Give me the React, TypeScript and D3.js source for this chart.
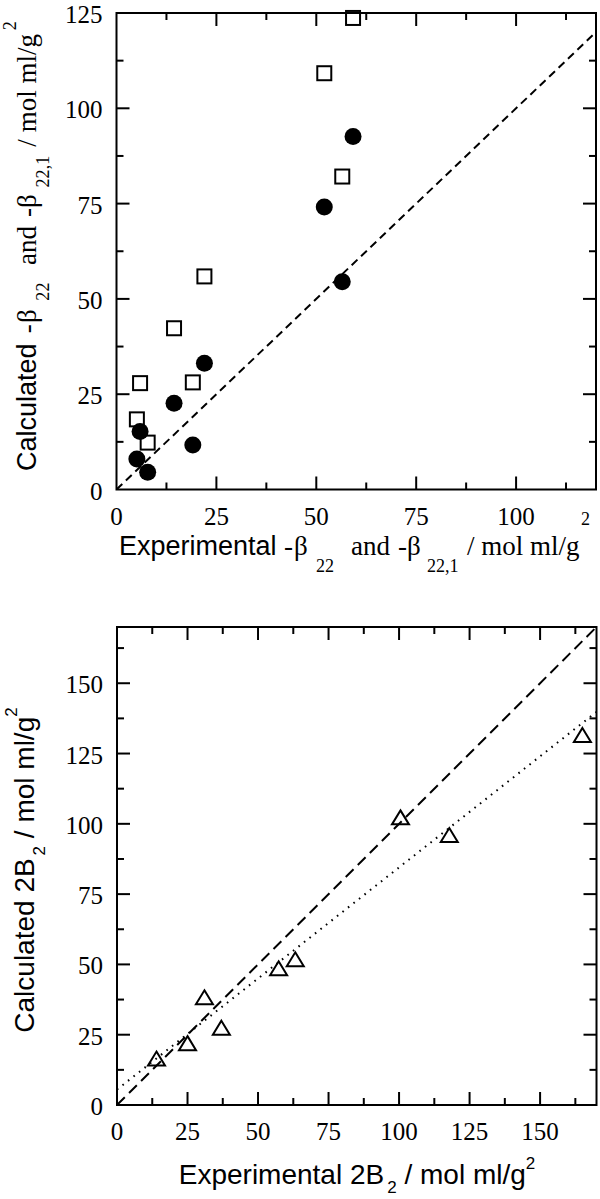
import React from "react";
import * as d3 from "d3";

// ---------- Data ----------
// Top panel: experimental vs calculated -β22 (filled circles) and -β22,1 (open squares)
const betaExp = [59.2, 52.0, 56.5, 22.0, 14.4, 19.1, 5.9, 5.1, 7.8];
const beta22Calc = [92.6, 74.1, 54.5, 33.1, 22.6, 11.7, 15.2, 8.0, 4.5];
const beta221Calc = [123.7, 109.2, 82.1, 55.9, 42.3, 28.1, 27.9, 18.4, 12.3];
const topXTicks = [0, 25, 50, 75, 100];
const topYTicks = [0, 25, 50, 75, 100, 125];

// Bottom panel: experimental vs calculated 2B2 (open triangles)
const b2Exp = [14, 25, 31, 37, 57.3, 63.2, 100.5, 117.8, 165];
const b2Calc = [16.5, 22, 38.3, 27.5, 48.6, 51.8, 102.3, 96, 131.6];
const botXTicks = [0, 25, 50, 75, 100, 125, 150];
const botYTicks = [0, 25, 50, 75, 100, 125, 150];
// dotted fit line (intercept, slope)
const fitIntercept = 5.5;
const fitSlope = 0.79;

const SERIF = "Liberation Serif";
const SANS = "Liberation Sans";

type Scale = d3.ScaleLinear<number, number>;

function Frame({ x, y, xTicks, yTicks, xMinorStep, yMinorStep }: {
  x: Scale; y: Scale; xTicks: number[]; yTicks: number[]; xMinorStep: number; yMinorStep: number;
}) {
  const [x0, x1] = x.range();
  const [y0, y1] = y.range();
  const [dx0, dx1] = x.domain();
  const [dy0, dy1] = y.domain();
  const xMinor = d3.range(dx0, dx1 + 1e-6, xMinorStep);
  const yMinor = d3.range(dy0, dy1 + 1e-6, yMinorStep);
  const isMajor = (v: number, ticks: number[]) => ticks.includes(v);
  const MAJ = 13, MIN = 7;
  return (
    <g>
      <rect x={x0} y={y1} width={x1 - x0} height={y0 - y1} fill="none" stroke="#000" strokeWidth={2} />
      {xMinor.map((v, i) => {
        const L = isMajor(v, xTicks) ? MAJ : MIN;
        if (v === dx0 || v === dx1) return null;
        return (
          <g key={"xm" + i}>
            <line x1={x(v)} x2={x(v)} y1={y0} y2={y0 - L} stroke="#000" strokeWidth={2} />
            <line x1={x(v)} x2={x(v)} y1={y1} y2={y1 + L} stroke="#000" strokeWidth={2} />
          </g>
        );
      })}
      {yMinor.map((v, i) => {
        const L = isMajor(v, yTicks) ? MAJ : MIN;
        if (v === dy0 || v === dy1) return null;
        return (
          <g key={"ym" + i}>
            <line x1={x0} x2={x0 + L} y1={y(v)} y2={y(v)} stroke="#000" strokeWidth={2} />
            <line x1={x1} x2={x1 - L} y1={y(v)} y2={y(v)} stroke="#000" strokeWidth={2} />
          </g>
        );
      })}
      {xTicks.map((v) => (
        <text key={"xl" + v} x={x(v)} y={y0 + 35} textAnchor="middle" style={{ fontFamily: SERIF, fontSize: 25 }}>{v}</text>
      ))}
      {yTicks.map((v) => (
        <text key={"yl" + v} x={x0 - 14} y={y(v) + 10} textAnchor="end" style={{ fontFamily: SERIF, fontSize: 25 }}>{v}</text>
      ))}
    </g>
  );
}

// Beta title made of pieces placed along the text direction
function BetaTitle({ lead, leadW, start, scale, fs, subDy, supDy }: {
  lead: string; leadW: number; start: number; scale: number; fs: number; subDy: number; supDy: number;
}) {
  const o = (v: number) => start + v * scale;
  const sub = fs * 0.67;
  const pieces = [
    { t: lead, at: 0, fam: SANS, size: fs, dy: 0 },
    { t: "-", at: leadW + 7, fam: SERIF, size: fs, dy: 0 },
    { t: "β", at: leadW + 17, fam: SERIF, size: fs, dy: 0 },
    { t: "22", at: leadW + 39, fam: SERIF, size: sub, dy: subDy },
    { t: "and", at: leadW + 74, fam: SERIF, size: fs, dy: 0 },
    { t: "-β", at: leadW + 121, fam: SERIF, size: fs, dy: 0 },
    { t: "22,1", at: leadW + 150, fam: SERIF, size: sub, dy: subDy },
    { t: "/ mol ml/g", at: leadW + 190, fam: SERIF, size: fs, dy: 0 },
    { t: "2", at: leadW + 304, fam: SERIF, size: sub, dy: supDy },
  ];
  return (
    <>
      {pieces.map((p, i) => (
        <text key={i} x={o(p.at)} y={p.dy} style={{ fontFamily: p.fam, fontSize: p.size }}>{p.t}</text>
      ))}
    </>
  );
}

export default function App() {
  // Top panel scales
  const tx = d3.scaleLinear().domain([0, 120]).range([116.5, 596]);
  const ty = d3.scaleLinear().domain([0, 125]).range([489.5, 13]);
  // Bottom panel scales
  const bx = d3.scaleLinear().domain([0, 170]).range([117, 596.5]);
  const by = d3.scaleLinear().domain([0, 170]).range([1105, 627]);

  const topLine = d3.line<[number, number]>().x((d) => tx(d[0])).y((d) => ty(d[1]));
  const botLine = d3.line<[number, number]>().x((d) => bx(d[0])).y((d) => by(d[1]));

  const tri = "M0,-7L8.5,7L-8.5,7Z";

  return (
    <svg width={600} height={1199} style={{ position: "absolute", left: 0, top: 0, display: "block", background: "#fff" }}>
      <rect width={600} height={1199} fill="#fff" />
      <defs>
        <clipPath id="clipTop"><rect x={116.5} y={13} width={479.5} height={476.5} /></clipPath>
        <clipPath id="clipBot"><rect x={117} y={627} width={479.5} height={478} /></clipPath>
      </defs>

      {/* ---------- Top panel ---------- */}
      <g clipPath="url(#clipTop)">
        <path d={topLine([[0, 0], [120, 120]]) || ""} fill="none" stroke="#000" strokeWidth={2} strokeDasharray="8,5" />
      </g>
      {betaExp.map((v, i) => (
        <rect key={"sq" + i} x={tx(v) - 7} y={ty(beta221Calc[i]) - 7} width={14} height={14} fill="#fff" stroke="#000" strokeWidth={2} />
      ))}
      {betaExp.map((v, i) => (
        <circle key={"c" + i} cx={tx(v)} cy={ty(beta22Calc[i])} r={8.5} fill="#000" />
      ))}
      <Frame x={tx} y={ty} xTicks={topXTicks} yTicks={topYTicks} xMinorStep={12.5} yMinorStep={12.5} />

      {/* top x title */}
      <g transform="translate(0,555)">
        <BetaTitle lead="Experimental" leadW={158} start={119} scale={1} fs={27} subDy={17} supDy={-30} />
      </g>
      {/* top y title */}
      <g transform="translate(36,0) rotate(-90)">
        <BetaTitle lead="Calculated" leadW={128} start={-471} scale={1.02} fs={27} subDy={13} supDy={-20} />
      </g>

      {/* ---------- Bottom panel ---------- */}
      <g clipPath="url(#clipBot)">
        <path d={botLine([[0, 0], [170, 170]]) || ""} fill="none" stroke="#000" strokeWidth={2} strokeDasharray="11,6" />
        <path d={botLine([[0, fitIntercept], [170, fitIntercept + fitSlope * 170]]) || ""} fill="none" stroke="#000" strokeWidth={2} strokeDasharray="1.6,5.4" />
      </g>
      {b2Exp.map((v, i) => (
        <path key={"t" + i} d={tri} transform={`translate(${bx(v)},${by(b2Calc[i])})`} fill="none" stroke="#000" strokeWidth={2} strokeLinejoin="miter" />
      ))}
      <Frame x={bx} y={by} xTicks={botXTicks} yTicks={botYTicks} xMinorStep={12.5} yMinorStep={12.5} />

      <text x={357} y={1184} textAnchor="middle" style={{ fontFamily: SANS, fontSize: 28 }}>
        <tspan>Experimental 2B</tspan>
        <tspan style={{ fontSize: 17 }} dy={9} dx={3}>2</tspan>
        <tspan dy={-9}> / mol ml/g</tspan>
        <tspan style={{ fontSize: 17 }} dy={-15}>2</tspan>
      </text>
      <text transform={`translate(34,${870}) rotate(-90)`} textAnchor="middle" style={{ fontFamily: SANS, fontSize: 28 }}>
        <tspan>Calculated 2B</tspan>
        <tspan style={{ fontSize: 17 }} dy={11} dx={3}>2</tspan>
        <tspan dy={-11}> / mol ml/g</tspan>
        <tspan style={{ fontSize: 17 }} dy={-17}>2</tspan>
      </text>
    </svg>
  );
}
